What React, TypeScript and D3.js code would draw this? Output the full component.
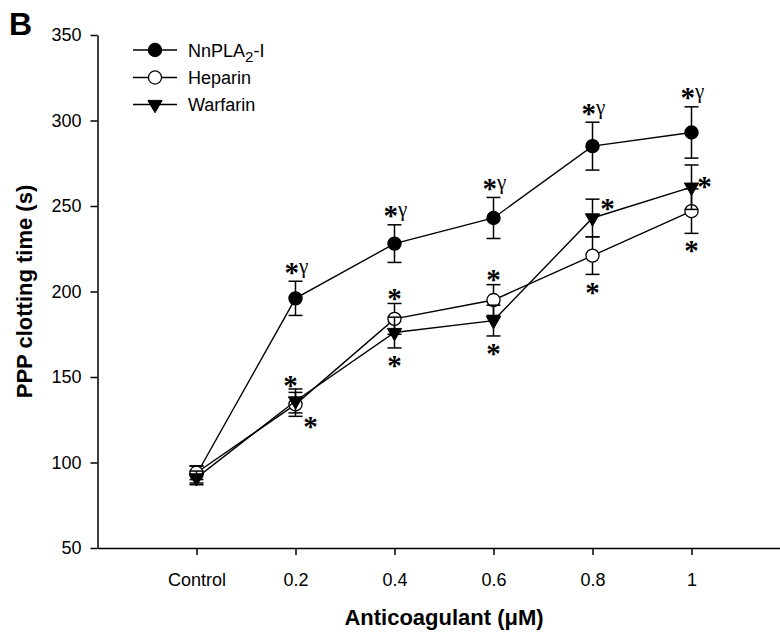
import React, { useEffect, useRef } from "react";
import * as d3 from "d3";

// ---- data ----
const categories = ["Control", "0.2", "0.4", "0.6", "0.8", "1"];
const yTicks = [50, 100, 150, 200, 250, 300, 350];

const nnplaMean = [93, 196, 228, 243, 285, 293];
const nnplaErr = [5, 10, 11, 12, 14, 15];
const heparinMean = [94, 134, 184, 195, 221, 247];
const heparinErr = [4, 7, 9, 9, 11, 13];
const warfarinMean = [91, 136, 176, 183, 243, 261];
const warfarinErr = [4, 7, 9, 9, 11, 13];

const nnplaSig = ["", "*γ", "*γ", "*γ", "*γ", "*γ"];
const heparinSig = ["", "*", "*", "*", "*", "*"];
const warfarinSig = ["", "*", "*", "*", "*", "*"];
const heparinSigPlace = ["", "aboveLeft", "above", "above", "below", "below"];
const warfarinSigPlace = ["", "belowRight", "below", "below", "aboveRight", "right"];

const seriesNames = ["NnPLA2-I", "Heparin", "Warfarin"];

const W = 780;
const H = 638;

const x = d3.scaleLinear().domain([0, 7]).range([97.5, 790.5]);
const y = d3.scaleLinear().domain([50, 350]).range([548, 35]);

const SANS = "Arial, 'Liberation Sans', Helvetica, sans-serif";
const SERIF = "'Liberation Serif', 'Times New Roman', serif";

const circlePath = d3.symbol(d3.symbolCircle, 135)() as string;
const triPath = d3.symbol(d3.symbolTriangle, 88)() as string;

type Series = {
  name: string;
  mean: number[];
  err: number[];
  marker: "filled" | "open" | "tri";
};

const series: Series[] = [
  { name: seriesNames[0], mean: nnplaMean, err: nnplaErr, marker: "filled" },
  { name: seriesNames[1], mean: heparinMean, err: heparinErr, marker: "open" },
  { name: seriesNames[2], mean: warfarinMean, err: warfarinErr, marker: "tri" },
];

function Marker({ kind, cx, cy }: { kind: string; cx: number; cy: number }) {
  if (kind === "tri") {
    return (
      <path
        d={triPath}
        transform={`translate(${cx},${cy}) rotate(180)`}
        fill="#000"
        stroke="#000"
        strokeWidth={1}
      />
    );
  }
  return (
    <path
      d={circlePath}
      transform={`translate(${cx},${cy})`}
      fill={kind === "filled" ? "#000" : "#fff"}
      stroke="#000"
      strokeWidth={1.3}
    />
  );
}

const STAR = 29;

function Star({ cx, cy }: { cx: number; cy: number }) {
  // cy = visual centre of the asterisk glyph
  return (
    <text
      x={cx}
      y={cy + 0.47 * STAR}
      textAnchor="middle"
      fontFamily={SERIF}
      fontWeight="bold"
      fontSize={STAR}
    >
      *
    </text>
  );
}

export default function App() {
  const xAxisRef = useRef<SVGGElement>(null);
  const yAxisRef = useRef<SVGGElement>(null);

  useEffect(() => {
    const ya = d3
      .axisLeft(y)
      .tickValues(yTicks)
      .tickSize(7)
      .tickSizeOuter(0)
      .tickPadding(9)
      .tickFormat((d) => String(d));
    const yg = d3.select(yAxisRef.current!);
    yg.call(ya as any);
    yg.select(".domain").attr("stroke-width", 1.5);
    yg.selectAll(".tick line").attr("stroke-width", 1.5);
    yg.selectAll("text").attr("font-size", 18).attr("font-family", SANS).attr("fill", "#000");

    const xa = d3
      .axisBottom(x)
      .tickValues(categories.map((_, i) => i + 1))
      .tickSize(7)
      .tickSizeOuter(0)
      .tickPadding(18)
      .tickFormat((d) => categories[(d as number) - 1]);
    const xg = d3.select(xAxisRef.current!);
    xg.call(xa as any);
    xg.select(".domain").attr("stroke-width", 1.5);
    xg.selectAll(".tick line").attr("stroke-width", 1.5);
    xg.selectAll("text").attr("font-size", 18).attr("font-family", SANS).attr("fill", "#000");
  }, []);

  const line = d3
    .line<number>()
    .x((_, i) => x(i + 1))
    .y((d) => y(d));

  const capHalf = 7;

  const annotations: React.ReactNode[] = [];
  // NnPLA2-I: *γ above upper cap
  nnplaSig.forEach((s, i) => {
    if (!s) return;
    const cx = x(i + 1);
    const capTop = y(nnplaMean[i] + nnplaErr[i]);
    const cy = capTop - 13;
    annotations.push(
      <text key={`n${i}`} x={cx + 1} y={cy + 0.47 * STAR} textAnchor="middle" fontFamily={SERIF}>
        <tspan fontWeight="bold" fontSize={STAR}>*</tspan>
        <tspan fontSize={21} dy={-9}>γ</tspan>
      </text>
    );
  });
  const placeStar = (
    key: string,
    i: number,
    mean: number[],
    err: number[],
    place: string
  ) => {
    const px = x(i + 1);
    const py = y(mean[i]);
    const capTop = y(mean[i] + err[i]);
    const capBot = y(mean[i] - err[i]);
    let cx = px;
    let cy = py;
    if (place === "above") cy = capTop - 9.5;
    else if (place === "aboveLeft") { cx = px - 5; cy = capTop - 11; }
    else if (place === "below") cy = capBot + 13.5;
    else if (place === "aboveRight") { cx = px + 15; cy = py - 14; }
    else if (place === "right") { cx = px + 13; cy = py - 5; }
    else if (place === "belowRight") { cx = px + 15; cy = py + 21; }
    annotations.push(<Star key={key} cx={cx} cy={cy} />);
  };
  heparinSig.forEach((s, i) => {
    if (s) placeStar(`h${i}`, i, heparinMean, heparinErr, heparinSigPlace[i]);
  });
  warfarinSig.forEach((s, i) => {
    if (s) placeStar(`w${i}`, i, warfarinMean, warfarinErr, warfarinSigPlace[i]);
  });

  const legendRows = [50, 77.5, 104.5];

  return (
    <svg
      width={W}
      height={H}
      viewBox={`0 0 ${W} ${H}`}
      style={{ position: "absolute", left: 0, top: 0, display: "block", background: "#fff" }}
    >
      <rect width={W} height={H} fill="#fff" />
      <text x={9} y={35} fontFamily={SANS} fontWeight="bold" fontSize={32}>
        B
      </text>

      <g ref={yAxisRef} transform={`translate(${x(0)},0)`} />
      <g ref={xAxisRef} transform={`translate(0,${y(50)})`} />

      <text
        transform={`translate(32,${(y(50) + y(350)) / 2}) rotate(-90)`}
        textAnchor="middle"
        fontFamily={SANS}
        fontWeight="bold"
        fontSize={22}
      >
        PPP clotting time (s)
      </text>
      <text
        x={(x(1) + x(6)) / 2}
        y={625}
        textAnchor="middle"
        fontFamily={SANS}
        fontWeight="bold"
        fontSize={22}
      >
        Anticoagulant (μM)
      </text>

      {series.map((s) => (
        <g key={s.name}>
          <path d={line(s.mean) as string} fill="none" stroke="#000" strokeWidth={1.4} />
          {s.mean.map((m, i) => {
            const cx = x(i + 1);
            const t = y(m + s.err[i]);
            const b = y(m - s.err[i]);
            return (
              <g key={i} stroke="#000" strokeWidth={1.5}>
                <line x1={cx} x2={cx} y1={t} y2={b} />
                <line x1={cx - capHalf} x2={cx + capHalf} y1={t} y2={t} />
                <line x1={cx - capHalf} x2={cx + capHalf} y1={b} y2={b} />
              </g>
            );
          })}
          {s.mean.map((m, i) => (
            <Marker key={`m${i}`} kind={s.marker} cx={x(i + 1)} cy={y(m)} />
          ))}
        </g>
      ))}

      {annotations}

      {series.map((s, k) => (
        <g key={`lg${k}`}>
          <line x1={133} x2={177} y1={legendRows[k]} y2={legendRows[k]} stroke="#000" strokeWidth={1.4} />
          <Marker kind={s.marker} cx={155} cy={legendRows[k]} />
          <text x={188} y={legendRows[k] + 6.5} fontFamily={SANS} fontSize={18}>
            {k === 0 ? (
              <>
                NnPLA
                <tspan fontSize={15} dy={5}>2</tspan>
                <tspan dy={-5}>-I</tspan>
              </>
            ) : (
              s.name
            )}
          </text>
        </g>
      ))}
    </svg>
  );
}
